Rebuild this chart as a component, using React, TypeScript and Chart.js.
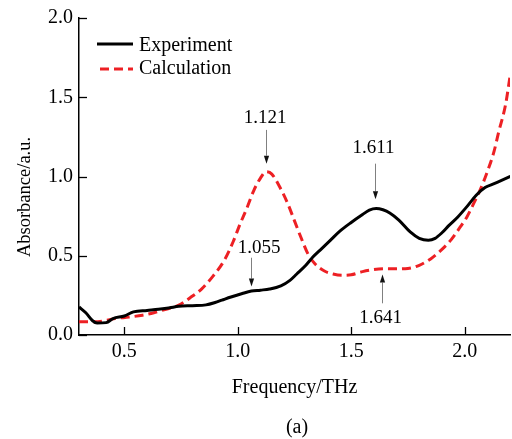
import { useEffect, useRef } from "react";
import { Chart, registerables } from "chart.js";

Chart.register(...registerables);

const FONT = "'Liberation Serif', 'Times New Roman', serif";

// Experiment (black solid)
const expFreq = [0.30, 0.33, 0.36, 0.38, 0.42, 0.45, 0.50, 0.54, 0.60, 0.65, 0.70, 0.74, 0.80, 0.86, 0.90, 0.93, 0.97, 1.02, 1.06, 1.10, 1.14, 1.19, 1.23, 1.26, 1.30, 1.33, 1.37, 1.41, 1.45, 1.50, 1.55, 1.58, 1.61, 1.64, 1.67, 1.71, 1.76, 1.80, 1.84, 1.87, 1.90, 1.93, 1.97, 2.01, 2.05, 2.09, 2.13, 2.17, 2.21];
const expAbs = [0.177, 0.14, 0.09, 0.075, 0.078, 0.104, 0.12, 0.146, 0.155, 0.162, 0.172, 0.181, 0.185, 0.19, 0.205, 0.22, 0.24, 0.262, 0.277, 0.283, 0.29, 0.31, 0.345, 0.385, 0.44, 0.49, 0.545, 0.6, 0.655, 0.71, 0.76, 0.788, 0.798, 0.79, 0.77, 0.725, 0.65, 0.61, 0.598, 0.61, 0.645, 0.69, 0.745, 0.81, 0.88, 0.93, 0.955, 0.98, 1.006];

// Calculation (red dashed)
const calcFreq = [0.30, 0.37, 0.42, 0.46, 0.52, 0.58, 0.63, 0.67, 0.74, 0.79, 0.84, 0.89, 0.94, 0.98, 1.01, 1.04, 1.07, 1.10, 1.125, 1.15, 1.19, 1.22, 1.25, 1.28, 1.31, 1.34, 1.38, 1.42, 1.46, 1.50, 1.55, 1.60, 1.65, 1.70, 1.75, 1.80, 1.85, 1.90, 1.94, 1.98, 2.01, 2.04, 2.07, 2.10, 2.13, 2.15, 2.18, 2.20];
const calcAbs = [0.083, 0.083, 0.092, 0.104, 0.113, 0.125, 0.14, 0.157, 0.188, 0.235, 0.29, 0.37, 0.47, 0.59, 0.70, 0.80, 0.91, 0.99, 1.03, 1.015, 0.92, 0.83, 0.72, 0.61, 0.51, 0.45, 0.405, 0.385, 0.377, 0.38, 0.40, 0.413, 0.418, 0.418, 0.42, 0.44, 0.48, 0.54, 0.60, 0.68, 0.745, 0.83, 0.92, 1.03, 1.16, 1.28, 1.45, 1.63];

const xTickValues = [0.5, 1.0, 1.5, 2.0];
const yTickValues = [0.0, 0.5, 1.0, 1.5, 2.0];

const seriesNames = ["Experiment", "Calculation"];

// Peak annotations: label, label position (data), arrow x, arrow start y, arrow tip y
const peakLabels = ["1.121", "1.611", "1.055", "1.641"];
const peakLabelX = [1.1205, 1.598, 1.094, 1.630];
const peakLabelY = [1.3375, 1.15, 0.519, 0.075];
const peakArrowX = [1.125, 1.606, 1.059, 1.637];
const peakArrowFrom = [1.294, 1.081, 0.4875, 0.2];
const peakArrowTo = [1.081, 0.856, 0.306, 0.381];

const RED = "#ed2024";

const overlayPlugin = {
  id: "overlay",
  afterDatasetsDraw(chart: any) {
    const ctx = chart.ctx as CanvasRenderingContext2D;
    const { left, right, top, bottom } = chart.chartArea;
    const xs = chart.scales.x;
    const ys = chart.scales.y;
    ctx.save();

    // inward ticks
    ctx.strokeStyle = "#000";
    ctx.lineWidth = 1.3;
    ctx.setLineDash([]);
    yTickValues.forEach((v) => {
      const py = Math.round(ys.getPixelForValue(v)) + 0.5;
      ctx.beginPath();
      ctx.moveTo(left, py);
      ctx.lineTo(left + 8, py);
      ctx.stroke();
    });
    xTickValues.forEach((v) => {
      const px = Math.round(xs.getPixelForValue(v)) + 0.5;
      ctx.beginPath();
      ctx.moveTo(px, bottom);
      ctx.lineTo(px, bottom - 8);
      ctx.stroke();
    });

    // legend
    ctx.lineWidth = 3;
    ctx.strokeStyle = "#000";
    ctx.beginPath();
    ctx.moveTo(97, 44);
    ctx.lineTo(133, 44);
    ctx.stroke();
    ctx.strokeStyle = RED;
    ctx.setLineDash([9, 5]);
    ctx.beginPath();
    ctx.moveTo(100, 69);
    ctx.lineTo(133, 69);
    ctx.stroke();
    ctx.setLineDash([]);
    ctx.fillStyle = "#000";
    ctx.font = `20px ${FONT}`;
    ctx.textAlign = "left";
    ctx.textBaseline = "alphabetic";
    ctx.fillText(seriesNames[0], 139, 51);
    ctx.fillText(seriesNames[1], 139, 74);

    // annotations
    ctx.font = `19px ${FONT}`;
    ctx.textAlign = "center";
    peakLabels.forEach((lab, i) => {
      const lx = xs.getPixelForValue(peakLabelX[i]);
      const ly = ys.getPixelForValue(peakLabelY[i]);
      ctx.fillStyle = "#000";
      ctx.fillText(lab, lx, ly);
      const ax = Math.round(xs.getPixelForValue(peakArrowX[i])) + 0.5;
      const y1 = ys.getPixelForValue(peakArrowFrom[i]);
      const y2 = ys.getPixelForValue(peakArrowTo[i]);
      const dir = y2 > y1 ? 1 : -1;
      const headLen = 8;
      ctx.strokeStyle = "#808080";
      ctx.lineWidth = 1;
      ctx.beginPath();
      ctx.moveTo(ax, y1);
      ctx.lineTo(ax, y2 - dir * headLen);
      ctx.stroke();
      ctx.fillStyle = "#111";
      ctx.beginPath();
      ctx.moveTo(ax, y2);
      ctx.lineTo(ax - 2.6, y2 - dir * headLen);
      ctx.lineTo(ax + 2.6, y2 - dir * headLen);
      ctx.closePath();
      ctx.fill();
    });

    // axis titles
    ctx.fillStyle = "#000";
    ctx.font = `20px ${FONT}`;
    ctx.textAlign = "center";
    ctx.textBaseline = "middle";
    ctx.fillText("Frequency/THz", (left + right) / 2 + 0, 388);
    ctx.fillText("(a)", 297, 428);
    ctx.save();
    ctx.translate(25, 197);
    ctx.rotate(-Math.PI / 2);
    ctx.font = `18.5px ${FONT}`;
    ctx.fillText("Absorbance/a.u.", 0, 0);
    ctx.restore();

    ctx.restore();
  },
};

export default function App() {
  const canvasRef = useRef<HTMLCanvasElement | null>(null);

  useEffect(() => {
    if (!canvasRef.current) return;
    const chart = new Chart(canvasRef.current, {
      type: "line",
      data: {
        datasets: [
          {
            label: seriesNames[0],
            data: expFreq.map((f, i) => ({ x: f, y: expAbs[i] })),
            borderColor: "#000",
            borderWidth: 3,
            pointRadius: 0,
            cubicInterpolationMode: "monotone",
            fill: false,
          },
          {
            label: seriesNames[1],
            data: calcFreq.map((f, i) => ({ x: f, y: calcAbs[i] })),
            borderColor: RED,
            borderWidth: 3,
            borderDash: [9, 5],
            pointRadius: 0,
            cubicInterpolationMode: "monotone",
            fill: false,
          },
        ],
      },
      options: {
        responsive: false,
        animation: false,
        devicePixelRatio: 1,
        layout: { padding: { left: 0, top: 15, right: 2, bottom: 0 } },
        plugins: { legend: { display: false }, tooltip: { enabled: false } },
        scales: {
          x: {
            type: "linear",
            min: 0.3,
            max: 2.2,
            afterFit: (s: any) => {
              s.height = 104;
            },
            afterBuildTicks: (s: any) => {
              s.ticks = xTickValues.map((v) => ({ value: v }));
            },
            grid: { display: false, drawTicks: false },
            border: { display: true, color: "#000", width: 1.5 },
            ticks: {
              color: "#000",
              font: { family: FONT, size: 20 },
              padding: 5,
              maxRotation: 0,
              callback: (v: any) => Number(v).toFixed(1),
            },
          },
          y: {
            type: "linear",
            min: 0,
            max: 2,
            afterFit: (s: any) => {
              s.width = 79;
            },
            afterBuildTicks: (s: any) => {
              s.ticks = yTickValues.map((v) => ({ value: v }));
            },
            grid: { display: false, drawTicks: false },
            border: { display: true, color: "#000", width: 1.5 },
            ticks: {
              color: "#000",
              font: { family: FONT, size: 20 },
              padding: 6,
              callback: (v: any) => Number(v).toFixed(1),
            },
          },
        },
      },
      plugins: [overlayPlugin],
    });
    return () => chart.destroy();
  }, []);

  return (
    <div style={{ position: "absolute", left: 0, top: 0, width: 512, height: 439, background: "#fff" }}>
      <canvas ref={canvasRef} width={512} height={439} style={{ width: 512, height: 439, display: "block" }} />
    </div>
  );
}
